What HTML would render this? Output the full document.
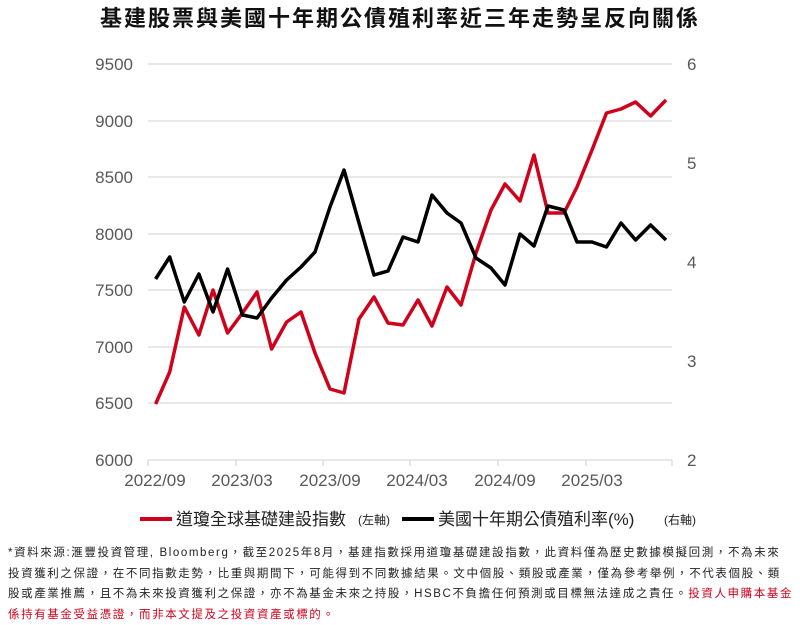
<!DOCTYPE html>
<html><head><meta charset="utf-8"><style>
body{margin:0;background:#fff;width:800px;height:624px;overflow:hidden;font-family:"Liberation Sans","Noto Sans CJK TC",sans-serif;}
.note{position:absolute;left:8px;top:543px;width:800px;white-space:nowrap;font-size:11.5px;letter-spacing:1.6px;line-height:20.5px;color:#222;font-family:"Liberation Sans","Noto Sans CJK TC",sans-serif;}
.red{color:#d0021b;}
</style></head><body>
<svg width="800" height="540" style="position:absolute;left:0;top:0" font-family="Liberation Sans, Noto Sans CJK TC, sans-serif">
<text x="400" y="26" text-anchor="middle" font-size="22" letter-spacing="2" font-weight="bold" fill="#111">基建股票與美國十年期公債殖利率近三年走勢呈反向關係</text>
<g stroke="#d9d9d9" stroke-width="1.3">
<line x1="148" x2="672" y1="64" y2="64"/><line x1="148" x2="672" y1="121" y2="121"/>
<line x1="148" x2="672" y1="177" y2="177"/><line x1="148" x2="672" y1="234" y2="234"/>
<line x1="148" x2="672" y1="290" y2="290"/><line x1="148" x2="672" y1="347" y2="347"/>
<line x1="148" x2="672" y1="403" y2="403"/><line x1="148" x2="672" y1="460" y2="460"/>
<line x1="148" x2="148" y1="460" y2="466"/><line x1="236" x2="236" y1="460" y2="466"/>
<line x1="323" x2="323" y1="460" y2="466"/><line x1="410" x2="410" y1="460" y2="466"/>
<line x1="498" x2="498" y1="460" y2="466"/><line x1="586" x2="586" y1="460" y2="466"/>
<line x1="672" x2="672" y1="460" y2="466"/>
</g>
<g font-size="17" fill="#595959" text-anchor="end">
<text x="133" y="70">9500</text><text x="133" y="127">9000</text><text x="133" y="183">8500</text>
<text x="133" y="240">8000</text><text x="133" y="296">7500</text><text x="133" y="353">7000</text>
<text x="133" y="409">6500</text><text x="133" y="466">6000</text>
</g>
<g font-size="17" fill="#595959">
<text x="687" y="70">6</text><text x="687" y="169">5</text><text x="687" y="268">4</text>
<text x="687" y="367">3</text><text x="687" y="466">2</text>
</g>
<g font-size="17" fill="#595959" text-anchor="middle">
<text x="155" y="486">2022/09</text><text x="242" y="486">2023/03</text><text x="330" y="486">2023/09</text>
<text x="417" y="486">2024/03</text><text x="505" y="486">2024/09</text><text x="592" y="486">2025/03</text>
</g>
<polyline fill="none" stroke="#d0021b" stroke-width="3.5" stroke-linejoin="round" points="155.6,404 169.7,372 184.3,307 198.9,335 213,290 227.6,333 242.5,313 257,292 271.6,349 286.6,322 301,312 315,353 330,389 344,393 359,319 374,297 388,323 403,325 418,300 432,326 447,287 461,305 476,253 491,210 505,184 520,201 534,155 548,213 564,213 577,187 592,150 606.5,113 621,109 635.6,102 650.6,116 666,100"/>
<polyline fill="none" stroke="#000" stroke-width="3.5" stroke-linejoin="round" points="155.6,279 169.7,257 184.3,302 198.9,274 213,312 227.6,269 242.5,315 257,318 271.6,298 286.6,280 301,267 315,252 330,207 344,170 359,223 374,275 388,271 403,237 418,242 432,195 447,213 461,223 476,258 491,268 505,285 520,234 534,246 548,206 564,210 577,242 592,242 606.5,247 621,223 635.6,240 650.6,225 666,240"/>
<line x1="140" x2="172" y1="519" y2="519" stroke="#d0021b" stroke-width="4"/>
<text x="176" y="525" font-size="17" fill="#222">道瓊全球基礎建設指數</text>
<text x="358" y="524" font-size="12" fill="#222">(左軸)</text>
<line x1="402" x2="434" y1="519" y2="519" stroke="#000" stroke-width="4"/>
<text x="438" y="525" font-size="17" fill="#222">美國十年期公債殖利率(%)</text>
<text x="664" y="524" font-size="12" fill="#222">(右軸)</text>
</svg>
<div class="note">*資料來源:滙豐投資管理, Bloomberg，截至2025年8月，基建指數採用道瓊基礎建設指數，此資料僅為歷史數據模擬回測，不為未來<br>投資獲利之保證，在不同指數走勢，比重與期間下，可能得到不同數據結果。文中個股、類股或產業，僅為參考舉例，不代表個股、類<br>股或產業推薦，且不為未來投資獲利之保證，亦不為基金未來之持股，HSBC不負擔任何預測或目標無法達成之責任。<span class="red">投資人申購本基金<br>係持有基金受益憑證，而非本文提及之投資資產或標的。</span></div>
</body></html>
